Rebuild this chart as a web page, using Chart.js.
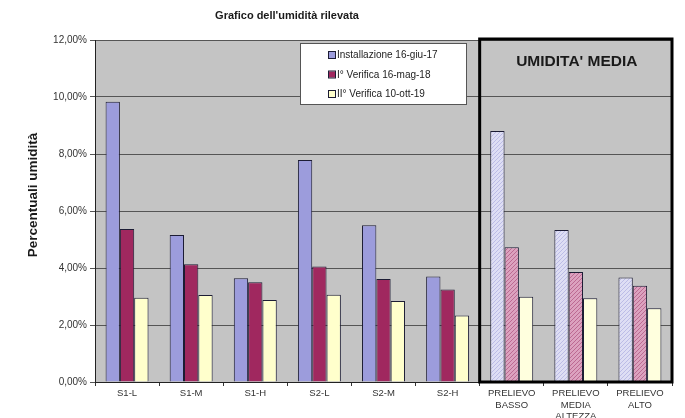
<!DOCTYPE html>
<html>
<head>
<meta charset="utf-8">
<script src="https://cdn.jsdelivr.net/npm/chart.js@4.4.1/dist/chart.umd.min.js"></script>
<style>
  html, body { margin: 0; padding: 0; background: #ffffff; }
  #wrap { width: 685px; height: 418px; position: relative; }
</style>
</head>
<body>
<div id="wrap"><canvas id="c" width="685" height="418"></canvas></div>
<script>
// Sampling points (single readings) followed by the three averaged positions
const categories = [
  'S1-L', 'S1-M', 'S1-H', 'S2-L', 'S2-M', 'S2-H',
  ['PRELIEVO', 'BASSO'], ['PRELIEVO', 'MEDIA', 'ALTEZZA'], ['PRELIEVO', 'ALTO']
];
const seriesNames = ['Installazione 16-giu-17', 'I\u00b0 Verifica 16-mag-18', 'II\u00b0 Verifica 10-ott-19'];

// Moisture percentages
const installazione = [9.83, 5.16, 3.64, 7.79, 5.50, 3.70, 8.81, 5.33, 3.67];
const verifica1     = [5.37, 4.13, 3.50, 4.05, 3.61, 3.25, 4.73, 3.86, 3.38];
const verifica2     = [2.96, 3.05, 2.88, 3.06, 2.84, 2.33, 2.99, 2.94, 2.59];

// Index of the first "averaged" category (drawn hatched and boxed)
const firstAverage = 6;
const yMax = 12;
const yStep = 2;

const solid = ['#9c9cdc', '#a0285f', '#ffffcc'];
const FONT = "'Liberation Sans', Arial, sans-serif";

function hatch(base, line) {
  const t = document.createElement('canvas');
  t.width = 4; t.height = 4;
  const g = t.getContext('2d');
  g.fillStyle = base;
  g.fillRect(0, 0, 4, 4);
  g.strokeStyle = line;
  g.lineWidth = 1;
  g.beginPath();
  g.moveTo(-1, 5); g.lineTo(5, -1);
  g.moveTo(-1, 1); g.lineTo(1, -1);
  g.moveTo(3, 5); g.lineTo(5, 3);
  g.stroke();
  return g.createPattern(t, 'repeat');
}
const hatched = [
  hatch('#dedef4', '#bcbce6'),
  hatch('#dca2bf', '#bc6a92'),
  '#ffffde'
];

function fills(i, n) {
  return Array.from({ length: n }, (_, k) => (k < firstAverage ? solid[i] : hatched[i]));
}

const seriesValues = [installazione, verifica1, verifica2];
const datasets = seriesValues.map((vals, i) => ({
  label: seriesNames[i],
  data: vals,
  backgroundColor: fills(i, vals.length),
  borderColor: '#1c1c34',
  borderWidth: 1,
  categoryPercentage: 0.67,
  barPercentage: 1.0
}));

// Grey plotting area behind the bars
const plotBackground = {
  id: 'plotBackground',
  beforeDraw(chart) {
    const { ctx, chartArea: a } = chart;
    ctx.save();
    ctx.fillStyle = '#c4c4c4';
    ctx.fillRect(a.left, a.top, a.right - a.left, a.bottom - a.top);
    ctx.restore();
  }
};

// Legend panel, the frame around the averaged readings and the titles
const overlays = {
  id: 'overlays',
  afterDatasetsDraw(chart) {
    const { ctx, chartArea: a, scales: { x } } = chart;
    ctx.save();

    // frame "UMIDITA' MEDIA"
    const left = (x.getPixelForValue(firstAverage - 1) + x.getPixelForValue(firstAverage)) / 2;
    ctx.strokeStyle = '#000000';
    ctx.lineWidth = 3;
    ctx.strokeRect(left, a.top - 1, a.right - left, a.bottom - a.top + 1);
    ctx.fillStyle = '#1a1a1a';
    ctx.font = 'bold 15.5px ' + FONT;
    ctx.textAlign = 'center';
    ctx.textBaseline = 'middle';
    ctx.fillText("UMIDITA' MEDIA", (left + a.right) / 2 + 1, a.top + 22);

    // legend
    const lx = a.left + 205, ly = a.top + 3, lw = 166, lh = 61;
    ctx.fillStyle = '#ffffff';
    ctx.fillRect(lx, ly, lw, lh);
    ctx.strokeStyle = '#555555';
    ctx.lineWidth = 1;
    ctx.strokeRect(lx + 0.5, ly + 0.5, lw, lh);
    ctx.font = '10px ' + FONT;
    ctx.textAlign = 'left';
    chart.data.datasets.forEach((ds, i) => {
      const cy = ly + 12 + i * 19.5;
      ctx.fillStyle = solid[i];
      ctx.fillRect(lx + 29, cy - 3, 6, 6);
      ctx.strokeStyle = '#1c1c34';
      ctx.strokeRect(lx + 28.5, cy - 3.5, 7, 7);
      ctx.fillStyle = '#222222';
      ctx.fillText(ds.label, lx + 37, cy + 0.5);
    });
    ctx.restore();
  },
  afterDraw(chart) {
    const { ctx } = chart;
    ctx.save();
    ctx.fillStyle = '#1a1a1a';
    ctx.textAlign = 'center';
    ctx.textBaseline = 'middle';
    ctx.font = 'bold 11px ' + FONT;
    ctx.fillText("Grafico dell'umidit\u00e0 rilevata", 287, 16);
    // vertical axis title
    ctx.translate(33, 195);
    ctx.rotate(-Math.PI / 2);
    ctx.font = 'bold 13.5px ' + FONT;
    ctx.fillText('Percentuali umidit\u00e0', 0, 0);
    ctx.restore();
  }
};

new Chart(document.getElementById('c'), {
  type: 'bar',
  data: { labels: categories, datasets },
  plugins: [plotBackground, overlays],
  options: {
    responsive: false,
    animation: false,
    layout: { padding: { top: 40, right: 13, left: 0, bottom: 0 } },
    plugins: {
      legend: { display: false },
      title: { display: false },
      tooltip: { enabled: false }
    },
    scales: {
      x: {
        grid: {
          display: true,
          drawOnChartArea: false,
          drawTicks: true,
          tickLength: 4,
          color: '#333333',
          offset: true
        },
        border: { color: '#222222', width: 1 },
        ticks: {
          color: '#333333',
          font: { family: FONT, size: 9.5 },
          padding: 2,
          maxRotation: 0,
          autoSkip: false
        },
        afterFit(scale) { scale.height = 36; }
      },
      y: {
        min: 0,
        max: yMax,
        ticks: {
          stepSize: yStep,
          color: '#333333',
          font: { family: FONT, size: 10 },
          padding: 3,
          callback: v => v.toFixed(2).replace('.', ',') + '%'
        },
        grid: { color: '#555555', lineWidth: 1, tickLength: 5 },
        border: { color: '#222222', width: 1 },
        afterFit(scale) { scale.width = 95; }
      }
    }
  }
});
</script>
</body>
</html>
